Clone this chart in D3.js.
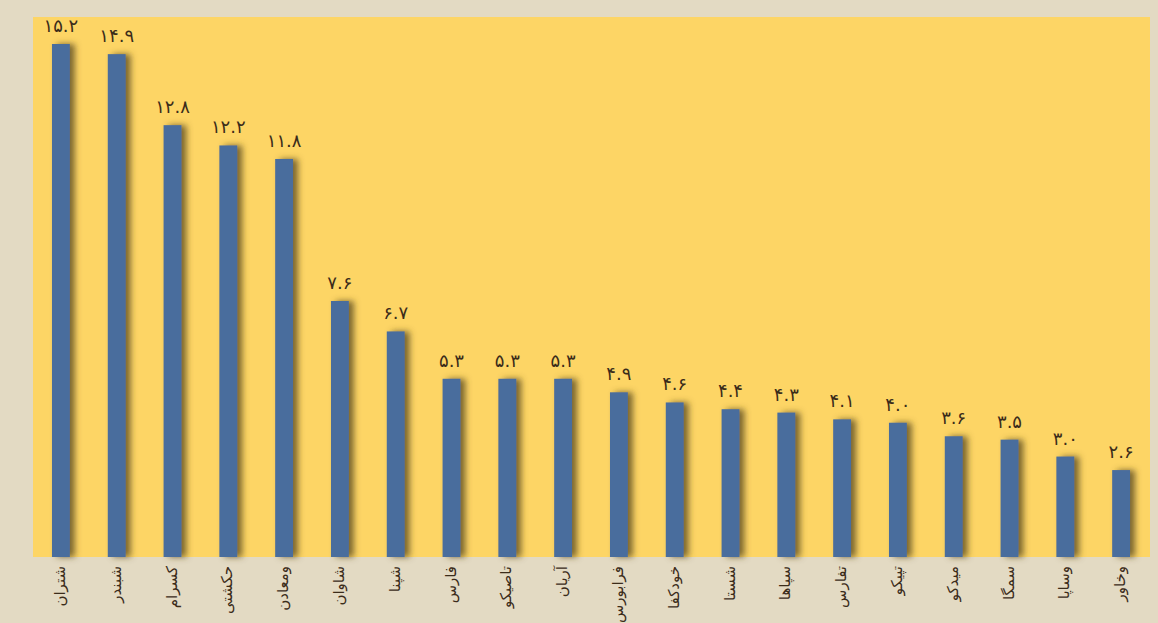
<!DOCTYPE html>
<html>
<head>
<meta charset="utf-8">
<script src="https://cdn.jsdelivr.net/npm/d3@7"></script>
<style>
  html, body { margin: 0; padding: 0; background: #e3dac3; }
  svg { display: block; }
</style>
</head>
<body>
<div id="chart"></div>
<script>
// companies, left to right
const companies = ["شتران", "شبندر", "کسرام", "حکشتی", "ومعادن", "شاوان", "شپنا", "فارس", "تاصیکو", "آریان",
  "فرابورس", "خودکفا", "شستا", "سپاها", "تفارس", "تپیکو", "میدکو", "سمگا", "وساپا", "وخاور"];
const values = [15.2, 14.9, 12.8, 12.2, 11.8, 7.6, 6.7, 5.3, 5.3, 5.3,
  4.9, 4.6, 4.4, 4.3, 4.1, 4.0, 3.6, 3.5, 3.0, 2.6];

const width = 1158;
const height = 623;
const plot = { left: 33, right: 1150, top: 17, bottom: 557 };

const fa = d3.format(".1f");
const toPersian = s => s.replace(/[0-9]/g, d => "۰۱۲۳۴۵۶۷۸۹"[+d]);

const svg = d3.select("#chart")
  .append("svg")
  .attr("width", width)
  .attr("height", height);

const defs = svg.append("defs");
const shadow = defs.append("filter")
  .attr("id", "shadow")
  .attr("x", "-50%").attr("y", "-10%")
  .attr("width", "250%").attr("height", "120%");
shadow.append("feDropShadow")
  .attr("dx", 5).attr("dy", 0)
  .attr("stdDeviation", 3)
  .attr("flood-color", "#5a4a20")
  .attr("flood-opacity", 0.8);

// yellow plot background
svg.append("rect")
  .attr("x", plot.left)
  .attr("y", plot.top)
  .attr("width", plot.right - plot.left)
  .attr("height", plot.bottom - plot.top)
  .attr("fill", "#fdd565");

const x = d3.scaleBand()
  .domain(companies)
  .range([33, 1149])
  .paddingInner(0.68)
  .paddingOuter(0.34);

const y = d3.scaleLinear()
  .domain([0, 15.2])
  .range([558, 44]);

const data = companies.map((c, i) => ({ name: c, value: values[i] }));

// bars
svg.selectAll(".bar")
  .data(data)
  .enter()
  .append("rect")
  .attr("class", "bar")
  .attr("x", d => x(d.name))
  .attr("y", d => y(d.value))
  .attr("width", x.bandwidth())
  .attr("height", d => plot.bottom - y(d.value))
  .attr("fill", "#4a6d9d")
  .attr("filter", "url(#shadow)");

// value labels
svg.selectAll(".val")
  .data(data)
  .enter()
  .append("text")
  .attr("class", "val")
  .attr("x", d => x(d.name) + x.bandwidth() / 2)
  .attr("y", d => y(d.value) - 12)
  .attr("text-anchor", "middle")
  .attr("font-family", "DejaVu Sans, sans-serif")
  .attr("font-size", 18)
  .attr("letter-spacing", 3.5)
  .attr("fill", "#3b2c1a")
  .text(d => toPersian(fa(d.value)));

// category labels, rotated
svg.selectAll(".cat")
  .data(data)
  .enter()
  .append("text")
  .attr("class", "cat")
  .attr("transform", d => `translate(${x(d.name) + x.bandwidth() / 2 + 4},566) rotate(-90)`)
  .attr("text-anchor", "end")
  .attr("font-family", "DejaVu Sans, sans-serif")
  .attr("font-size", 15)
  .attr("fill", "#3b2c1a")
  .text(d => d.name);
</script>
</body>
</html>
